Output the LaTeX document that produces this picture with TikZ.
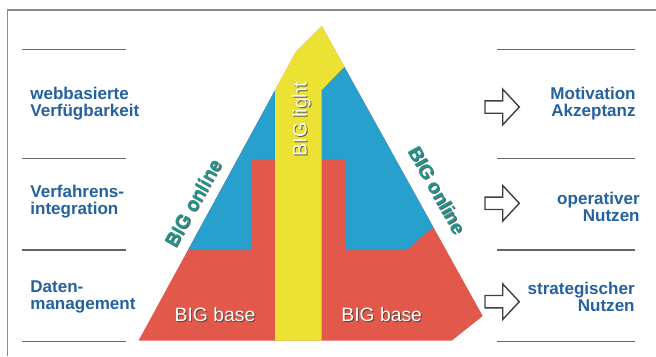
\documentclass[tikz,border=0pt]{standalone}
\usepackage{fontspec}
\setmainfont{Liberation Sans}
\usetikzlibrary{calc}

\definecolor{pyrred}{RGB}{226,88,74}
\definecolor{pyrblue}{RGB}{40,160,205}
\definecolor{pyryellow}{RGB}{236,226,52}
\definecolor{txtblue}{RGB}{36,98,158}
\definecolor{txtteal}{RGB}{30,150,140}
\definecolor{shade}{RGB}{60,60,60}

\tikzset{
  sidetext/.style={text=txtblue, font=\fontsize{9.7}{9.6}\selectfont\bfseries, inner sep=0pt},
  pyrtext/.style={text=white, font=\fontsize{11}{11}\selectfont, inner sep=0pt},
  edgetext/.style={text=txtteal, font=\fontsize{11}{11}\selectfont\bfseries, inner sep=0pt},
  rule/.style={draw=black!60, line width=0.6pt},
  hollowarrow/.style={draw=black!75, line width=0.8pt, fill=white, line join=miter},
}

% text with a dark drop shadow
\newcommand\shadowtext[4]{%
  \node[#1, text=shade, opacity=0.8] (#2-s) at ($(#3)+(1,1)$) {#4};
  \node[#1] (#2) at (#3) {#4};
}

\begin{document}
\begin{tikzpicture}[x=0.02cm, y=-0.02cm]
\useasboundingbox (0,0) rectangle (656,356);

% frame
\draw[black!45, line width=0.6pt] (656,10) -- (7.3,10) -- (7.3,356);

\coordinate (apex) at (321.7,26);
\coordinate (kink) at (296,51.7);
\coordinate (bl) at (138.5,340.7);
\coordinate (br) at (451.7,340.7);
\coordinate (rc) at (482.7,316);

% pyramid
\fill[pyrred] (apex) -- (rc) -- (br) -- (bl) -- (kink) -- cycle;
\fill[pyrblue] (275.1,90) -- (188,250) -- (251.7,250) -- (251.7,159.3) -- (275,159.3) -- cycle;
\fill[pyrblue] (321.7,90) -- (344.3,66.7) -- (433.1,226.7) -- (406.7,250) -- (345,250)
  -- (345,159.3) -- (321.7,159.3) -- cycle;
\fill[pyryellow] (275,340.7) -- (275.1,90) -- (kink) -- (apex) -- (344.3,66.7)
  -- (321.7,90) -- (321.7,340.7) -- cycle;

% rules left and right
\foreach \y in {49.3,158.3,250,341.7} {
  \draw[rule] (21.7,\y) -- (126,\y);
  \draw[rule] (497,\y) -- (635,\y);
}

% outline arrows
\foreach \y in {107,203.3,301.7} {
  \draw[hollowarrow] (485,\y-6.2) -- (502.7,\y-6.2) -- (502.7,\y-17.8) -- (519.3,\y)
    -- (502.7,\y+17.8) -- (502.7,\y+6.2) -- (485,\y+6.2) -- cycle;
}

% left column
\node[sidetext, anchor=west, align=left] (web) at (30,103.4) {webbasierte\\Verfügbarkeit};
\node[sidetext, anchor=west, align=left] (proc) at (30,201.7) {Verfahrens-\\integration};
\node[sidetext, anchor=west, align=left] (data) at (30,297) {Daten-\\management};

% right column
\node[sidetext, anchor=east, align=right] (motiv) at (636,104) {Motivation\\Akzeptanz};
\node[sidetext, anchor=east, align=right] (oper) at (640,207) {operativer\\Nutzen};
\node[sidetext, anchor=east, align=right] (strat) at (635,297) {strategischer\\Nutzen};

% pyramid labels
\shadowtext{pyrtext, rotate=90}{light}{301.7,119}{BIG light}
\shadowtext{edgetext, rotate=61}{onlineL}{193,203}{BIG online}
\shadowtext{edgetext, rotate=-61}{onlineR}{436.7,190}{BIG online}
\shadowtext{pyrtext}{baseL}{215,315}{BIG base}
\shadowtext{pyrtext}{baseR}{381.7,315}{BIG base}
\end{tikzpicture}
\end{document}
